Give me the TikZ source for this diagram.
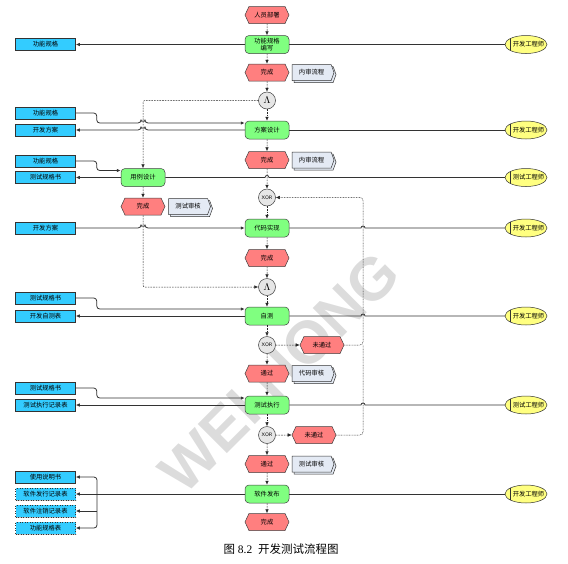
\documentclass[tikz,border=0pt]{standalone}
\usepackage{fontspec}
\setmainfont{Liberation Serif}
\newfontfamily\cjk{Noto Sans CJK SC}
\newfontfamily\wmfont{Liberation Sans}
\usetikzlibrary{shapes.symbols, shapes.geometric, arrows.meta, positioning, shadows}
\definecolor{evred}{HTML}{FF7F7F}
\definecolor{fngreen}{HTML}{80FF80}
\definecolor{ioblue}{HTML}{33CCFF}
\definecolor{orgyel}{HTML}{FFFF80}
\definecolor{docgray}{HTML}{E4EAF4}
\definecolor{opgray}{HTML}{E6E6E6}
\definecolor{wmgray}{HTML}{DCDCDC}
% line hops over crossing connectors
\newcommand{\hopR}{arc[start angle=180, end angle=0, radius=2]}
\newcommand{\hopL}{arc[start angle=0, end angle=180, radius=2]}
\tikzset{
  base/.style={font=\cjk\fontsize{6.3}{7}\selectfont, inner sep=0pt,
               align=center, line width=0.5pt},
  event/.style={base, signal, signal to=west and east, signal pointer angle=130,
                draw=black!75, fill=evred, minimum width=44, minimum height=17},
  func/.style={base, rectangle, rounded corners=4pt, draw=black!75,
               fill=fngreen, minimum width=44, minimum height=18},
  iobox/.style={base, rectangle, draw=black!80, fill=ioblue,
                minimum width=60, minimum height=12,
                drop shadow={shadow xshift=0.8pt, shadow yshift=-0.8pt}},
  iodot/.style={iobox, dotted},
  doc/.style={base, signal, signal to=east, signal pointer angle=140,
              draw=black!80, fill=docgray, minimum width=42, minimum height=16,
              copy shadow={shadow xshift=2pt, shadow yshift=-2pt}},
  op/.style={circle, draw=black!75, fill=opgray, minimum size=17, inner sep=0pt,
             line width=0.5pt},
  org/.style={ellipse, draw=black!80, fill=orgyel, minimum width=42,
              minimum height=18, inner sep=0pt, line width=0.5pt,
              path picture={\draw[black!80, line width=0.5pt]
                ([xshift=5]path picture bounding box.south west) --
                ([xshift=5]path picture bounding box.north west);},
              label={[base, xshift=2.5pt]center:#1}},
  flow/.style={-{Latex[length=4pt,width=3.5pt]}, line width=0.5pt,
               dash pattern=on 1.6pt off 1.1pt, black!85},
  loopl/.style={line width=0.5pt, dash pattern=on 0.8pt off 0.8pt, black!85,
                rounded corners=3pt},
  inl/.style={-{Latex[length=4pt,width=3.5pt]}, line width=0.8pt, black!80,
              rounded corners=3pt},
  orgl/.style={line width=0.8pt, black!80},
}
\begin{document}
\begin{tikzpicture}[x=1pt, y=1pt, node distance=2.5pt]
  \useasboundingbox (0,0) rectangle (568,-563);

  %% watermark
  \node[wmgray, font=\wmfont\bfseries\fontsize{60}{60}\selectfont, rotate=45] (wm)
    at (279,-372) {WEI HONG};

  %% main column
  \node[event] (staff)    at (267,-15)    {人员部署};
  \node[func]  (specw)    at (267,-44.5)  {功能规格\\编写};
  \node[event] (done1)    at (267,-72.5)  {完成};
  \node[doc, right=of done1] (rev1) {内审流程};
  \node[op]    (and1)     at (267,-100.5) {$\Lambda$};
  \node[func]  (design)   at (267,-130)   {方案设计};
  \node[event] (done2)    at (267,-160)   {完成};
  \node[doc, right=of done2] (rev2) {内审流程};
  \node[func]  (case)     at (143,-177.5) {用例设计};
  \node[event] (done3)    at (143,-206.5) {完成};
  \node[doc, right=3pt of done3] (rev3) {测试审核};
  \node[op, font=\sffamily\fontsize{5}{5}\selectfont] (xor1) at (267,-197.5) {XOR};
  \node[func]  (code)     at (267,-228)   {代码实现};
  \node[event] (done4)    at (267,-258)   {完成};
  \node[op]    (and2)     at (267,-287)   {$\Lambda$};
  \node[func]  (selftest) at (267,-316)   {自测};
  \node[op, font=\sffamily\fontsize{5}{5}\selectfont] (xor2) at (267,-345) {XOR};
  \node[event] (fail1)    at (322,-345)   {未通过};
  \node[event] (pass1)    at (267,-373.5) {通过};
  \node[doc, right=of pass1] (rev4) {代码审核};
  \node[func]  (exec)     at (267,-405)   {测试执行};
  \node[op, font=\sffamily\fontsize{5}{5}\selectfont] (xor3) at (267,-435) {XOR};
  \node[event] (fail2)    at (314,-435)   {未通过};
  \node[event] (pass2)    at (267,-464)   {通过};
  \node[doc, right=of pass2] (rev5) {测试审核};
  \node[func]  (release)  at (267,-494)   {软件发布};
  \node[event] (done5)    at (267,-522)   {完成};

  %% documents (left)
  \node[iobox] (out1) at (45.5,-44.5) {功能规格};
  \node[iobox] (in2)  at (45.5,-113)  {功能规格};
  \node[iobox] (out2) at (45.5,-130)  {开发方案};
  \node[iobox] (in3)  at (45.5,-161)  {功能规格};
  \node[iobox] (out3) at (45.5,-177.5) {测试规格书};
  \node[iobox] (in4)  at (45.5,-228)  {开发方案};
  \node[iobox] (in5)  at (45.5,-298)  {测试规格书};
  \node[iobox] (out5) at (45.5,-316)  {开发自测表};
  \node[iobox] (in6)  at (45.5,-388)  {测试规格书};
  \node[iobox] (out6) at (45.5,-405)  {测试执行记录表};
  \node[iobox] (rel1) at (45.5,-477)  {使用说明书};
  \node[iodot] (rel2) at (45.5,-494)  {软件发行记录表};
  \node[iodot] (rel3) at (45.5,-511)  {软件注销记录表};
  \node[iodot] (rel4) at (45.5,-528)  {功能规格表};

  %% roles (right)
  \node[org=开发工程师] (eng1) at (526,-44.5) {};
  \node[org=开发工程师] (eng2) at (526,-130)  {};
  \node[org=测试工程师] (tst1) at (526,-177.5) {};
  \node[org=开发工程师] (eng3) at (526,-228)  {};
  \node[org=开发工程师] (eng4) at (526,-316)  {};
  \node[org=测试工程师] (tst2) at (526,-405)  {};
  \node[org=开发工程师] (eng5) at (526,-494)  {};

  %% control flow
  \foreach \a/\b in {staff/specw, specw/done1, done1/and1, and1/design,
                     design/done2, done2/xor1, xor1/code, code/done4,
                     done4/and2, and2/selftest, selftest/xor2, xor2/pass1,
                     pass1/exec, exec/xor3, xor3/pass2, pass2/release,
                     release/done5, case/done3, xor2/fail1, xor3/fail2}
    \draw[flow] (\a) -- (\b);
  \draw[flow, rounded corners=2pt] (and1) -| (case);
  \draw[flow, rounded corners=2pt] (done3) |- (and2);

  %% rework loop
  \coordinate (lp1) at (363,-197.5);
  \coordinate (lp2) at (363,-345);
  \draw[loopl, -{Latex[length=4pt,width=3.5pt]}] (fail1.east) -| (lp1) -- (xor1);
  \draw[loopl] (fail2.east) -| (lp2);

  %% inputs, outputs, roles
  \draw[orgl] (specw) -- (eng1);
  \draw[inl] (specw) -- (out1);

  \draw[inl] (in2.east) -- ++(21,0) |- (141,-123) \hopR -- ([yshift=7]design.west);
  \draw[inl] (design.west) -- (145,-130) \hopL -- (out2.east);
  \draw[orgl] (design) -- (eng2);

  \draw[inl] (in3.east) -- ++(21,0) |- ([yshift=7]case.west);
  \draw[inl] (case) -- (out3);
  \draw[orgl] (case.east) -- (265,-177.5) \hopR -- (tst1.west);

  \draw[inl] (in4.east) -- (141,-228) \hopR -- (code.west);
  \draw[orgl] (code.east) -- (361,-228) \hopR -- (eng3.west);

  \draw[inl] (in5.east) -- ++(21,0) |- ([yshift=7]selftest.west);
  \draw[inl] (selftest) -- (out5);
  \draw[orgl] (selftest.east) -- (361,-316) \hopR -- (eng4.west);

  \draw[inl] (in6.east) -- ++(21,0) |- ([yshift=7]exec.west);
  \draw[inl] (exec) -- (out6);
  \draw[orgl] (exec.east) -- (361,-405) \hopR -- (tst2.west);

  \coordinate (fork) at (97,-494);
  \draw[orgl] (release) -- (eng5);
  \draw[inl] (release) -- (rel2);
  \draw[inl] (fork) |- (rel1.east);
  \draw[inl] (fork) |- (rel4.east);
  \draw[inl] (fork |- rel3.east) -- (rel3.east);

  %% caption
  \node[font=\fontsize{11.5}{13}\selectfont] (cap) at (281,-549)
    {{\cjk 图} 8.2\ \ {\cjk 开发测试流程图}};
\end{tikzpicture}
\end{document}
